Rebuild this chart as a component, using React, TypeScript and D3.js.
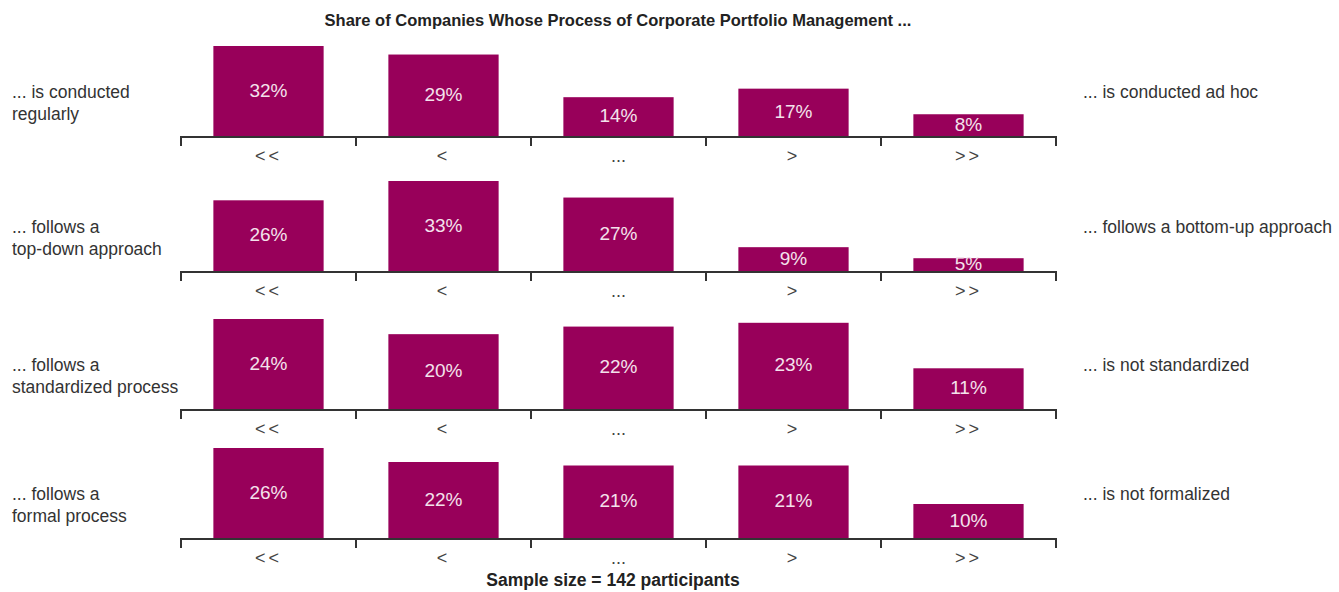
import React, { useEffect, useRef } from "react"
import * as d3 from "d3"

const categories = ["<<", "<", "...", ">", ">>"]
const leftLabels = [
  ["... is conducted", "regularly"],
  ["... follows a", "top-down approach"],
  ["... follows a", "standardized process"],
  ["... follows a", "formal process"],
]
const rightLabels = [
  "... is conducted ad hoc",
  "... follows a bottom-up approach",
  "... is not standardized",
  "... is not formalized",
]
const regularly = [32, 29, 14, 17, 8]
const topDown = [26, 33, 27, 9, 5]
const standardized = [24, 20, 22, 23, 11]
const formal = [26, 22, 21, 21, 10]
const series = [regularly, topDown, standardized, formal]

const title = "Share of Companies Whose Process of Corporate Portfolio Management ..."
const footer = "Sample size = 142 participants"

const width = 1339
const height = 592
const baselines = [137, 272, 410, 539]
const font = "'Liberation Sans', Arial, sans-serif"

export default function App() {
  const ref = useRef<SVGSVGElement>(null)

  useEffect(() => {
    document.body.style.margin = "0"
    const svg = d3.select(ref.current)
    svg.selectAll("*").remove()

    const x = d3.scaleBand().domain(categories).range([181, 1056]).padding(0)
    const barW = x.bandwidth() * 0.63

    svg.append("text")
      .text(title)
      .attr("x", 618).attr("y", 22)
      .attr("text-anchor", "middle").attr("dominant-baseline", "middle")
      .attr("font-family", font).attr("font-weight", "bold").attr("font-size", 16.5)
      .attr("fill", "#222")

    series.forEach((vals, i) => {
      const base = baselines[i]
      const y = d3.scaleLinear().domain([0, d3.max(vals)!]).range([base, base - 91])
      const g = svg.append("g")

      g.selectAll("rect")
        .data(vals)
        .enter()
        .append("rect")
        .attr("x", (d, j) => x(categories[j])! + (x.bandwidth() - barW) / 2)
        .attr("y", d => y(d))
        .attr("width", barW)
        .attr("height", d => base - y(d))
        .attr("fill", "#98005a")

      g.selectAll("text.val")
        .data(vals)
        .enter()
        .append("text")
        .attr("class", "val")
        .text(d => d + "%")
        .attr("x", (d, j) => x(categories[j])! + x.bandwidth() / 2)
        .attr("y", d => (y(d) + base) / 2)
        .attr("text-anchor", "middle").attr("dominant-baseline", "middle")
        .attr("font-family", font).attr("font-size", 19)
        .attr("fill", "#f4e2ec")

      const axis = d3.axisBottom(x).tickSize(0).tickFormat(() => "")
      const ag = g.append("g").attr("transform", "translate(0," + base + ")").call(axis)
      ag.select(".domain").remove()
      ag.append("line")
        .attr("x1", 181).attr("x2", 1056)
        .attr("stroke", "#333").attr("stroke-width", 2)
      const edges = categories.map(c => x(c)!).concat([1056])
      ag.selectAll("line.edge")
        .data(edges)
        .enter()
        .append("line")
        .attr("class", "edge")
        .attr("x1", d => d).attr("x2", d => d)
        .attr("y1", -1).attr("y2", 9)
        .attr("stroke", "#333").attr("stroke-width", 2)
      ag.selectAll("text.cat")
        .data(categories)
        .enter()
        .append("text")
        .attr("class", "cat")
        .text(d => d)
        .attr("x", d => x(d)! + x.bandwidth() / 2)
        .attr("y", 20)
        .attr("text-anchor", "middle").attr("dominant-baseline", "middle")
        .attr("font-family", font).attr("font-size", 18)
        .attr("letter-spacing", d => (d === "..." ? 0 : 3))
        .attr("fill", "#444")

      leftLabels[i].forEach((line, k) => {
        g.append("text")
          .text(line)
          .attr("x", 12).attr("y", base - 44 + k * 22)
          .attr("dominant-baseline", "middle")
          .attr("font-family", font).attr("font-size", 17.5)
          .attr("fill", "#333")
      })
      g.append("text")
        .text(rightLabels[i])
        .attr("x", 1083).attr("y", base - 44)
        .attr("dominant-baseline", "middle")
        .attr("font-family", font).attr("font-size", 17.5)
        .attr("fill", "#333")
    })

    svg.append("text")
      .text(footer)
      .attr("x", 613).attr("y", 581)
      .attr("text-anchor", "middle").attr("dominant-baseline", "middle")
      .attr("font-family", font).attr("font-weight", "bold").attr("font-size", 17.5)
      .attr("fill", "#222")
  }, [])

  return <svg ref={ref} width={width} height={height} style={{ display: "block" }} />
}
